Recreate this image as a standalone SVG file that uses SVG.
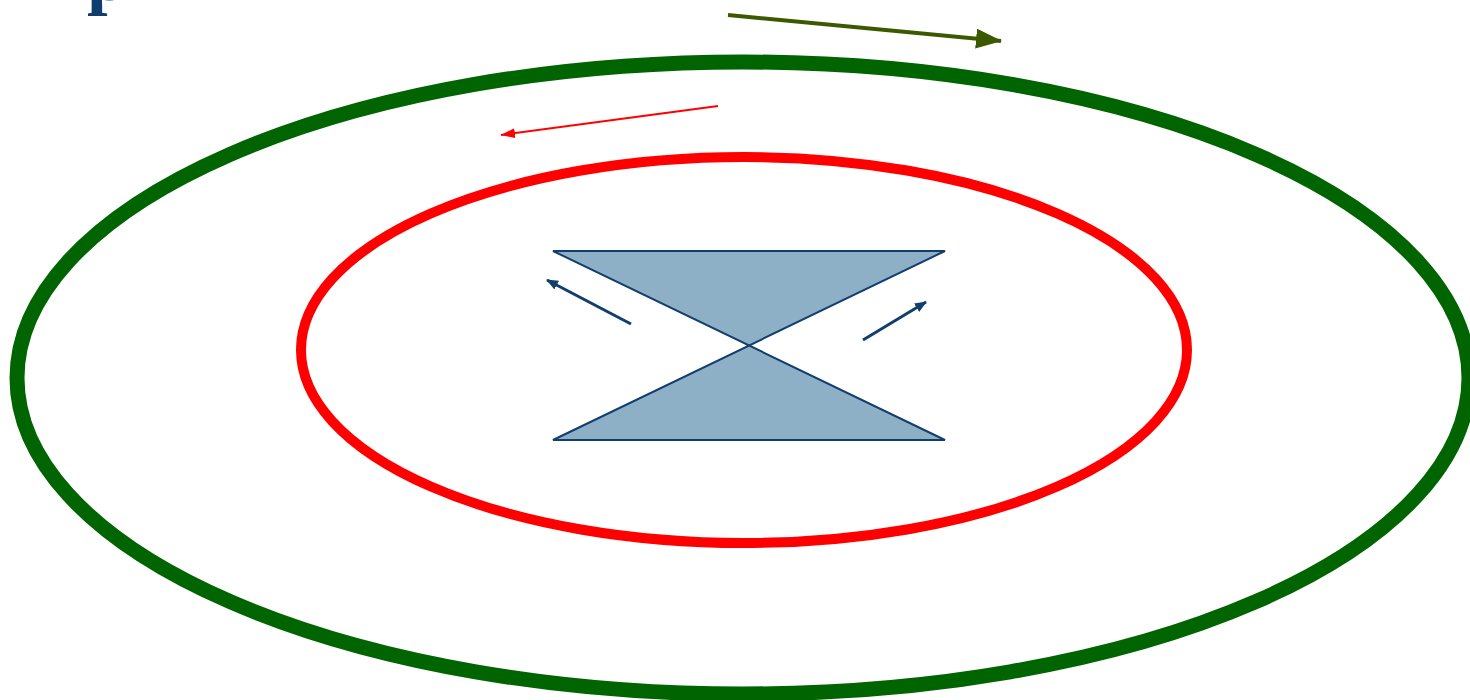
<svg xmlns="http://www.w3.org/2000/svg" width="1470" height="700" viewBox="0 0 1470 700">
<style>
.title{font-family:"Liberation Serif","Times New Roman",serif;font-weight:bold;fill:#0e3d6e}
.bow{fill:#8eb0c6;stroke:#123e6e;stroke-width:2;stroke-linejoin:miter}
</style>
<defs>
<marker id="hg" markerUnits="userSpaceOnUse" markerWidth="26" markerHeight="20" refX="25" refY="10" orient="auto"><path d="M0,0 L26,10 L0,20 Z" fill="#3b5a00"/></marker>
<marker id="hr" markerUnits="userSpaceOnUse" markerWidth="14" markerHeight="10" refX="14" refY="5" orient="auto"><path d="M0,0 L14,5 L0,10 Z" fill="#ff0000"/></marker>
<marker id="hb" markerUnits="userSpaceOnUse" markerWidth="12" markerHeight="10" refX="11" refY="5" orient="auto"><path d="M0,0 L12,5 L0,10 Z" fill="#123e6e"/></marker>
</defs>
<rect width="1470" height="700" fill="#ffffff"/>
<text class="title" x="87" y="0" font-size="74">p</text>
<g id="outer-ring"><ellipse cx="743" cy="378" rx="726" ry="316" fill="none" stroke="#006400" stroke-width="15"/></g>
<g id="inner-ring"><ellipse cx="744" cy="350" rx="443" ry="193" fill="none" stroke="#ff0000" stroke-width="10"/></g>
<g id="bowtie"><path class="bow" d="M553,251 L945,251 L553,440 L945,440 Z"/></g>
<g id="connectors">
<line x1="728" y1="15" x2="1001" y2="41" stroke="#3b5a00" stroke-width="4" marker-end="url(#hg)"/>
<line x1="718" y1="106" x2="501" y2="135" stroke="#ff0000" stroke-width="2" marker-end="url(#hr)"/>
<line x1="631" y1="324" x2="547" y2="280" stroke="#123e6e" stroke-width="3" marker-end="url(#hb)"/>
<line x1="863" y1="340" x2="926" y2="302" stroke="#123e6e" stroke-width="3" marker-end="url(#hb)"/>
</g>
</svg>
